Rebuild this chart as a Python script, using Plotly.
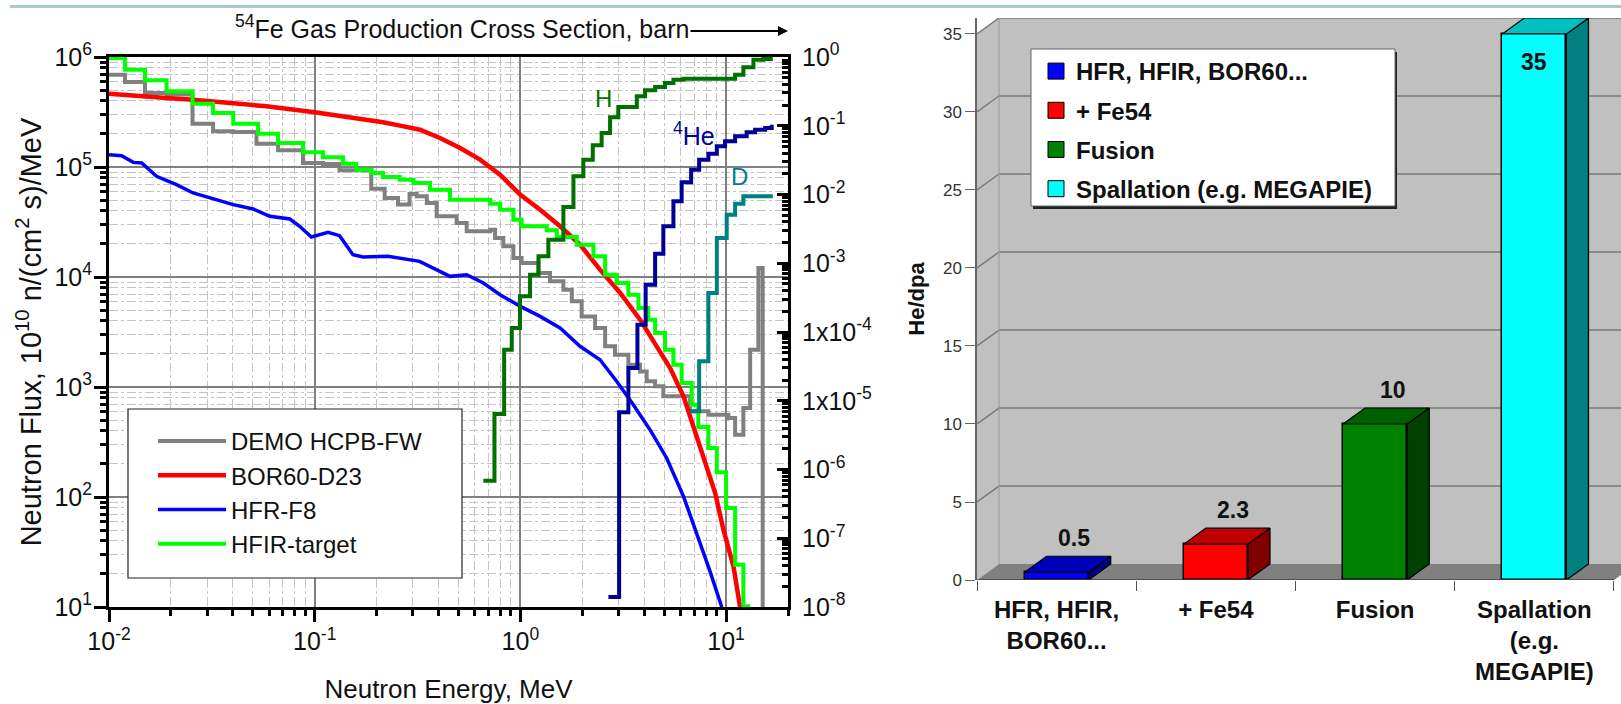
import numpy as np
import plotly.graph_objects as go

W, H = 1621, 704
FONT = "Liberation Sans, Arial, sans-serif"

# ---------- left chart data (log10 of MeV, log10 of flux or of barn) ----------
demo_log_e = [-2,-1.922,-1.825,-1.72,-1.594,-1.494,-1.396,-1.283,-1.178,-1.057,-0.96,-0.879,-0.725,-0.66,-0.595,-0.539,-0.504,-0.455,-0.407,-0.31,-0.261,-0.147,-0.123,-0.083,-0.034,0.006,0.088,0.144,0.209,0.25,0.298,0.363,0.412,0.46,0.525,0.582,0.614,0.655,0.695,0.825,0.914,1.011,1.044,1.084,1.117,1.157,1.178]
demo_log_f = [5.839,5.773,5.673,5.658,5.394,5.324,5.318,5.212,5.152,5.036,5.027,4.97,4.803,4.718,4.658,4.755,4.733,4.673,4.552,4.491,4.415,4.43,4.355,4.279,4.173,4.127,4.036,3.961,3.885,3.779,3.642,3.536,3.37,3.294,3.203,3.142,3.052,3.006,2.915,2.779,2.748,2.718,2.567,2.809,3.339,4.082,1.0]

bor_log_e = [-2,-1.882,-1.72,-1.591,-1.396,-1.235,-1,-0.83,-0.668,-0.585,-0.488,-0.391,-0.293,-0.196,-0.099,0,0.096,0.193,0.29,0.387,0.485,0.582,0.671,0.728,0.793,0.841,0.898,0.947,0.987,1.036,1.068]
bor_log_f = [5.667,5.648,5.627,5.612,5.576,5.552,5.497,5.455,5.406,5.376,5.339,5.264,5.173,5.067,4.93,4.748,4.612,4.461,4.294,4.067,3.855,3.612,3.339,3.173,2.915,2.642,2.339,2.036,1.703,1.37,1.0]

hfr_log_e = [-2,-1.939,-1.882,-1.841,-1.769,-1.672,-1.591,-1.477,-1.396,-1.299,-1.218,-1.121,-1.073,-1.016,-0.935,-0.879,-0.814,-0.765,-0.644,-0.49,-0.423,-0.342,-0.261,-0.18,-0.099,0,0.096,0.193,0.29,0.387,0.468,0.549,0.63,0.711,0.793,0.874,0.922,0.979]
hfr_log_f = [5.112,5.103,5.042,5.036,4.915,4.839,4.764,4.703,4.658,4.618,4.552,4.527,4.461,4.364,4.406,4.376,4.203,4.182,4.188,4.142,4.082,4.006,4.021,3.945,3.839,3.733,3.642,3.536,3.37,3.248,3.052,2.839,2.612,2.355,2.006,1.582,1.324,1.0]

hfir_log_e = [-2,-1.922,-1.825,-1.72,-1.594,-1.494,-1.396,-1.275,-1.178,-1.057,-0.96,-0.862,-0.798,-0.725,-0.668,-0.587,-0.52,-0.439,-0.342,-0.147,-0.099,-0.034,0.006,0.128,0.177,0.274,0.355,0.412,0.468,0.525,0.574,0.622,0.655,0.703,0.744,0.784,0.833,0.865,0.914,0.955,1.0,1.044,1.084,1.117]
hfir_log_f = [5.99,5.885,5.788,5.688,5.576,5.491,5.394,5.303,5.218,5.133,5.088,5.03,4.976,4.945,4.909,4.885,4.855,4.794,4.703,4.667,4.612,4.521,4.461,4.424,4.364,4.294,4.188,4.021,3.945,3.839,3.718,3.612,3.491,3.339,3.203,3.036,2.839,2.636,2.445,2.224,1.9,1.385,1.006,1.006]

h_log_e = [-0.18,-0.126,-0.079,-0.042,-0.002,0.047,0.088,0.136,0.209,0.258,0.306,0.352,0.395,0.436,0.476,0.566,0.606,0.655,0.703,0.744,0.793,1.044,1.084,1.133,1.181,1.227]
h_log_s = [-6.162,-5.193,-4.257,-3.942,-3.481,-3.166,-2.899,-2.657,-2.182,-1.736,-1.493,-1.285,-1.105,-0.878,-0.727,-0.572,-0.485,-0.436,-0.378,-0.33,-0.315,-0.257,-0.15,-0.039,-0.029,-0.029]

he_log_e = [0.428,0.48,0.525,0.569,0.609,0.655,0.695,0.744,0.784,0.83,0.869,0.914,0.955,0.995,1.044,1.1,1.141,1.19,1.222]
he_log_s = [-7.855,-5.168,-4.524,-3.893,-3.312,-2.861,-2.463,-2.099,-1.823,-1.639,-1.493,-1.406,-1.299,-1.227,-1.154,-1.096,-1.057,-1.033,-0.984]

d_log_e = [0.825,0.869,0.914,0.955,1.003,1.044,1.084,1.227]
d_log_s = [-5.154,-4.427,-3.433,-2.633,-2.293,-2.133,-2.027,-2.027]

energy_ticks = [0.01, 0.1, 1, 10]
energy_labels = ["10<sup>-2</sup>", "10<sup>-1</sup>", "10<sup>0</sup>", "10<sup>1</sup>"]
flux_ticks = [1e1, 1e2, 1e3, 1e4, 1e5, 1e6]
flux_labels = ["10<sup>1</sup>", "10<sup>2</sup>", "10<sup>3</sup>", "10<sup>4</sup>", "10<sup>5</sup>", "10<sup>6</sup>"]
xs_ticks = [1e-8, 1e-7, 1e-6, 1e-5, 1e-4, 1e-3, 1e-2, 1e-1, 1]
xs_labels = ["10<sup>-8</sup>", "10<sup>-7</sup>", "10<sup>-6</sup>", "1x10<sup>-5</sup>", "1x10<sup>-4</sup>",
             "10<sup>-3</sup>", "10<sup>-2</sup>", "10<sup>-1</sup>", "10<sup>0</sup>"]

# ---------- right chart data ----------
categories = ["HFR, HFIR,<br>BOR60...", "+ Fe54", "Fusion", "Spallation<br>(e.g.<br>MEGAPIE)"]
legend_names = ["HFR, HFIR, BOR60...", "+ Fe54", "Fusion", "Spallation (e.g. MEGAPIE)"]
he_dpa = [0.5, 2.3, 10, 35]
he_dpa_text = ["0.5", "2.3", "10", "35"]
front_colors = ["#0000ff", "#ff0000", "#008000", "#00ffff"]
top_colors = ["#0000b8", "#bf0000", "#006000", "#00bfbf"]
side_colors = ["#000080", "#800000", "#004000", "#008080"]

# ---------- layout helpers ----------
def px(x):
    return x / W

def py(y):
    return 1 - y / H

def minor_ticks(lo, hi):
    out = []
    for e in range(lo, hi):
        out += [m * 10.0 ** e for m in range(2, 10)]
    return out

def pow10(a):
    return (10.0 ** np.array(a)).tolist()

fig = go.Figure()

# flux curves
flux_series = [
    ("DEMO HCPB-FW", demo_log_e, demo_log_f, "#808080", 4, "hv"),
    ("BOR60-D23", bor_log_e, bor_log_f, "#ff0000", 4.5, "linear"),
    ("HFR-F8", hfr_log_e, hfr_log_f, "#0000ff", 3.5, "linear"),
    ("HFIR-target", hfir_log_e, hfir_log_f, "#00ff00", 4, "hv"),
]
for name, e, f, col, lw, shape in flux_series:
    fig.add_trace(go.Scatter(x=pow10(e), y=pow10(f), name=name, mode="lines",
                             line=dict(color=col, width=lw, shape=shape),
                             xaxis="x", yaxis="y", legend="legend"))

# cross sections
xs_series = [
    ("H", h_log_e, h_log_s, "#007000"),
    ("4He", he_log_e, he_log_s, "#000099"),
    ("D", d_log_e, d_log_s, "#008080"),
]
for name, e, s, col in xs_series:
    fig.add_trace(go.Scatter(x=pow10(e), y=pow10(s), name=name, mode="lines", showlegend=False,
                             line=dict(color=col, width=4, shape="hv"),
                             xaxis="x", yaxis="y2"))

# ---------- 3D look bars ----------
BAR_W = 0.403
DX = 22 / 159
DY = 16 / 15.63
X_MIN, X_END, X_MAX = -0.5, 3.5, 3.5 + 7 / 159
TOP = 35

shapes = []
ann = []
wall = dict(type="path", xref="x2", yref="y3", layer="below", line=dict(width=0))


def poly(points):
    return "M " + " L ".join(f"{a},{b}" for a, b in points) + " Z"


# side wall, back wall, floor
shapes.append(dict(wall, path=poly([(X_MIN, 0), (X_MIN + DX, DY), (X_MIN + DX, TOP + DY), (X_MIN, TOP)]), fillcolor="#c0c0c0"))
shapes.append(dict(wall, path=poly([(X_MIN + DX, DY), (X_MAX, DY), (X_MAX, TOP + DY), (X_MIN + DX, TOP + DY)]), fillcolor="#c0c0c0"))
shapes.append(dict(wall, path=poly([(X_MIN, 0), (X_END, 0), (X_END + DX, DY), (X_MAX, DY), (X_MIN + DX, DY)]), fillcolor="#808080"))
for v in range(5, 40, 5):
    grid_line = dict(type="line", xref="x2", yref="y3", layer="below", line=dict(color="#7a7a7a", width=1.5))
    shapes.append(dict(grid_line, x0=X_MIN, y0=v, x1=X_MIN + DX, y1=v + DY))
    shapes.append(dict(grid_line, x0=X_MIN + DX, y0=v + DY, x1=X_MAX, y1=v + DY))
shapes.append(dict(type="line", xref="x2", yref="y3", layer="below", x0=X_MIN + DX, y0=DY, x1=X_MIN + DX, y1=TOP + DY,
                   line=dict(color="#9a9a9a", width=1)))
shapes.append(dict(type="line", xref="x2", yref="y3", x0=X_MIN, y0=0, x1=X_END, y1=0, line=dict(color="#404040", width=1.5)))

for i, v in enumerate(he_dpa):
    fig.add_trace(go.Bar(x=[i], y=[v], width=BAR_W, showlegend=False, name=legend_names[i],
                         marker=dict(color=front_colors[i], line=dict(color="#000000", width=1.5)),
                         xaxis="x2", yaxis="y3"))
    l, r = i - BAR_W / 2, i + BAR_W / 2
    fig.add_trace(go.Scatter(x=[r, r + DX, r + DX, r, r], y=[0, DY, v + DY, v, 0], mode="lines", fill="toself",
                             fillcolor=side_colors[i], line=dict(color="#000000", width=1.2), showlegend=False,
                             xaxis="x2", yaxis="y3"))
    fig.add_trace(go.Scatter(x=[l, l + DX, r + DX, r, l], y=[v, v + DY, v + DY, v, v], mode="lines", fill="toself",
                             fillcolor=top_colors[i], line=dict(color="#000000", width=1.2), showlegend=False,
                             xaxis="x2", yaxis="y3"))
    inside = v > 30
    ann.append(dict(text=f"<b>{he_dpa_text[i]}</b>", xref="x2", yref="y3", x=i + (0 if inside else 0.11),
                    y=v - 1.8 if inside else v + 2.2, showarrow=False, font=dict(size=23, color="#111111", family=FONT)))
    # legend swatch
    fig.add_trace(go.Scatter(x=[None], y=[None], mode="markers", name=legend_names[i], legend="legend2",
                             legendgroup=legend_names[i],
                             marker=dict(symbol="square", size=16, color=front_colors[i], line=dict(color="#000000", width=1)),
                             xaxis="x2", yaxis="y3"))

# legend boxes
shapes.append(dict(type="rect", xref="paper", yref="paper", x0=px(128), x1=px(462), y0=py(578), y1=py(409),
                   fillcolor="#ffffff", line=dict(color="#222222", width=1.2), layer="above"))
shapes.append(dict(type="rect", xref="paper", yref="paper", x0=px(1033), x1=px(1397), y0=py(209), y1=py(52),
                   fillcolor="#222222", line=dict(width=0), layer="above"))
shapes.append(dict(type="rect", xref="paper", yref="paper", x0=px(1031), x1=px(1395), y0=py(206), y1=py(49),
                   fillcolor="#ffffff", line=dict(color="#666666", width=1), layer="above"))
# top band
shapes.append(dict(type="rect", xref="paper", yref="paper", x0=px(10), x1=1, y0=py(8), y1=py(5),
                   fillcolor="#aecbcb", line=dict(width=0), layer="above"))

# text labels on left chart
ann += [
    dict(text="<sup>54</sup>Fe Gas Production Cross Section, barn", xref="paper", yref="paper", x=px(462), y=py(27),
         xanchor="center", yanchor="middle", showarrow=False, font=dict(size=25, family=FONT, color="#111111")),
    dict(text="", xref="paper", yref="paper", x=px(788), y=py(31), ax=-99, ay=0, axref="pixel", ayref="pixel",
         showarrow=True, arrowhead=2, arrowwidth=2, arrowsize=1, arrowcolor="#000000"),
    dict(text="H", xref="x", yref="y", x=0.404, y=5.627, showarrow=False, font=dict(size=24, family=FONT, color="#007000")),
    dict(text="<sup>4</sup>He", xref="x", yref="y", x=0.842, y=5.30, showarrow=False, font=dict(size=25, family=FONT, color="#000099")),
    dict(text="D", xref="x", yref="y", x=1.063, y=4.915, showarrow=False, font=dict(size=24, family=FONT, color="#008080")),
]

log_axis = dict(type="log", showline=True, linecolor="#000000", linewidth=3, ticks="outside", ticklen=12,
                tickwidth=3, tickcolor="#000000", tickfont=dict(size=25, family=FONT, color="#111111"),
                showgrid=True, gridcolor="#808080", gridwidth=1.5, zeroline=False, automargin=False)


def minor_cfg(vals):
    return dict(tickmode="array", tickvals=vals, ticks="outside", ticklen=6, tickwidth=3, tickcolor="#000000",
                showgrid=True, gridcolor="#c4c4c4", griddash="dashdot", gridwidth=1)


fig.update_layout(
    template="none",
    width=W, height=H, margin=dict(l=0, r=0, t=0, b=0, autoexpand=False), autosize=False,
    paper_bgcolor="#ffffff", plot_bgcolor="#ffffff", bargap=0,
    font=dict(family=FONT, color="#111111"),
    xaxis=dict(log_axis, domain=[px(109), px(788)], range=[-2, np.log10(20)], anchor="y", mirror=True,
               tickmode="array", tickvals=energy_ticks, ticktext=energy_labels, ticklabelstandoff=-2,
               minor=minor_cfg(minor_ticks(-2, 1) + [20]),
               title=dict(text="Neutron Energy, MeV", font=dict(size=26, family=FONT, color="#111111"), standoff=28)),
    yaxis=dict(log_axis, domain=[py(607), py(57)], range=[1, 6], anchor="x",
               tickmode="array", tickvals=flux_ticks, ticktext=flux_labels, ticklabelstandoff=-3,
               minor=minor_cfg(minor_ticks(1, 6)),
               title=dict(text="Neutron Flux, 10<sup>10</sup> n/(cm<sup>2</sup> s)/MeV",
                          font=dict(size=29, family=FONT, color="#111111"), standoff=5)),
    yaxis2=dict(type="log", overlaying="y", side="right", anchor="x", range=[-8, 0], showgrid=False, zeroline=False,
                automargin=False, showline=True, linecolor="#000000", linewidth=3, ticks="inside", ticklen=11, tickwidth=3,
                tickcolor="#000000", tickfont=dict(size=25, family=FONT, color="#111111"), ticklabelstandoff=6,
                tickmode="array", tickvals=xs_ticks, ticktext=xs_labels,
                minor=dict(tickmode="array", tickvals=minor_ticks(-8, 0), ticks="inside", ticklen=6, tickwidth=3,
                           tickcolor="#000000", showgrid=False)),
    xaxis2=dict(domain=[px(977), 1], range=[X_MIN, X_MAX], anchor="y3", showgrid=False, zeroline=False, showline=False,
                automargin=False, tickmode="array", tickvals=[0, 1, 2, 3], ticktext=categories, ticks="", ticklabelstandoff=13,
                tickfont=dict(size=24, family=FONT, color="#111111", weight="bold"),
                minor=dict(tickmode="array", tickvals=[-0.5, 0.5, 1.5, 2.5, 3.5], ticks="outside", ticklen=10,
                           tickwidth=1.2, tickcolor="#555555", showgrid=False)),
    yaxis3=dict(domain=[py(580), py(18)], range=[0, TOP + DY], anchor="x2", showgrid=False, zeroline=False, automargin=False,
                tickmode="array", tickvals=list(range(0, 40, 5)), ticks="outside", ticklen=10, tickwidth=1.2,
                tickcolor="#666666", showline=True, linecolor="#666666", linewidth=1.5,
                tickfont=dict(size=17, family=FONT, color="#333333"),
                title=dict(text="<b>He/dpa</b>", font=dict(size=22, family=FONT, color="#111111"), standoff=12)),
    legend=dict(x=px(153), y=py(419), xanchor="left", yanchor="top", bgcolor="rgba(0,0,0,0)", borderwidth=0,
                itemwidth=68, font=dict(size=24, family=FONT, color="#111111"), itemclick=False, itemdoubleclick=False),
    legend2=dict(x=px(1036), y=py(49), xanchor="left", yanchor="top", bgcolor="rgba(0,0,0,0)", borderwidth=0,
                 tracegroupgap=5, font=dict(size=24, family=FONT, color="#111111", weight="bold"),
                 itemclick=False, itemdoubleclick=False),
    shapes=shapes, annotations=ann,
)

fig.write_html("out.html", config={"displayModeBar": False}, post_script="document.body.style.margin='0';")
